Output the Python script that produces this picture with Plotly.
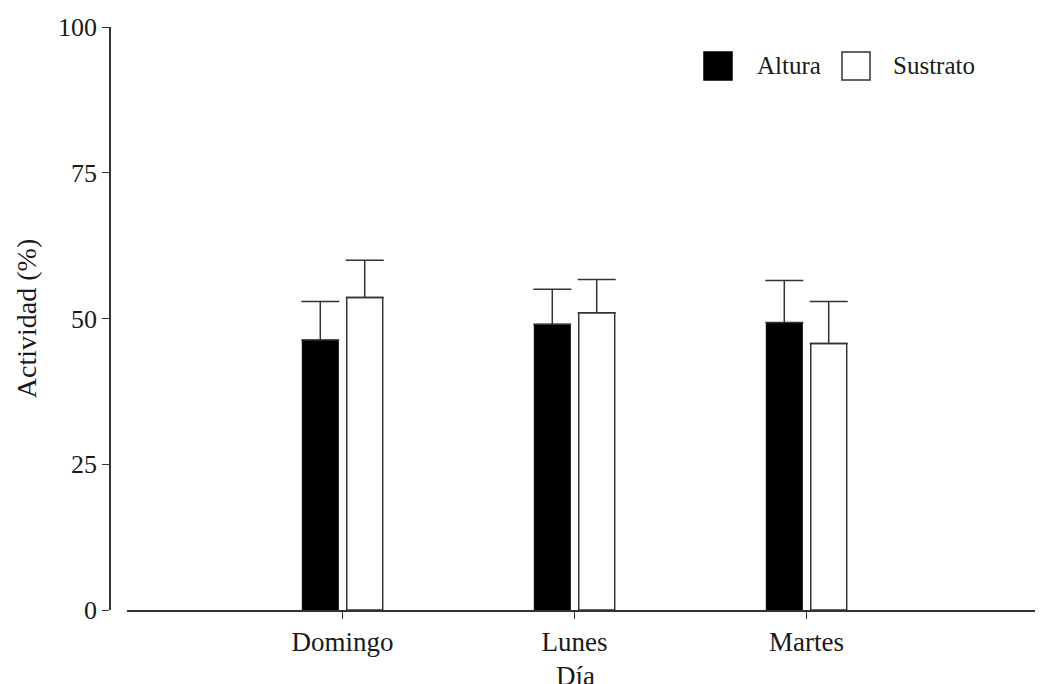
import plotly.graph_objects as go

# Data
dias = ["Domingo", "Lunes", "Martes"]
altura = [46.3, 49.0, 49.3]
altura_err = [6.6, 6.0, 7.2]
sustrato = [53.6, 51.0, 45.7]
sustrato_err = [6.4, 5.7, 7.2]
y_ticks = [0, 25, 50, 75, 100]

FONT = "Liberation Serif, Times New Roman, serif"
LINE = "#333333"
TXT = "#1a1a1a"

# page body has an 8px margin; lay the figure out in window pixels
OFF = 8
WIN_W, WIN_H = 1043, 684
W, H = WIN_W - OFF, WIN_H - OFF
AX_L, AX_T, AX_B = 110, 27, 610          # window pixels of plot area
ML, MT = AX_L - OFF, AX_T - OFF
MR = 0
MB = H - MT - (AX_B - AX_T)
PW, PH = W - ML - MR, AX_B - AX_T


def px_x(p):
    return (p - AX_L) / PW


def px_y(p):
    return 1 - (p - AX_T) / PH


fig = go.Figure()
fig.add_trace(go.Bar(
    x=dias, y=altura, name="Altura",
    marker=dict(color="black", line=dict(color="black", width=1)),
    error_y=dict(type="data", array=altura_err, symmetric=False, arrayminus=[0, 0, 0],
                 color=LINE, thickness=1.5, width=19),
    showlegend=False,
))
fig.add_trace(go.Bar(
    x=dias, y=sustrato, name="Sustrato",
    marker=dict(color="white", line=dict(color=LINE, width=1.5)),
    error_y=dict(type="data", array=sustrato_err, symmetric=False, arrayminus=[0, 0, 0],
                 color=LINE, thickness=1.5, width=19),
    showlegend=False,
))

# Legend drawn as shapes + text
legend = [("Altura", "black", "black", 704, 755), ("Sustrato", "white", LINE, 842, 891)]
shapes = []
annotations = []
for label, fill, edge, x0, tx in legend:
    shapes.append(dict(type="rect", xref="paper", yref="paper",
                       x0=px_x(x0), x1=px_x(x0 + 28), y0=px_y(80), y1=px_y(52),
                       fillcolor=fill, line=dict(color=edge, width=1.5)))
    annotations.append(dict(text=label, xref="paper", yref="paper", x=px_x(tx), y=px_y(66),
                            xanchor="left", yanchor="middle", showarrow=False,
                            font=dict(family=FONT, size=25, color=TXT)))

# x-axis title as annotation (sits low, like the reference)
annotations.append(dict(text="Día", xref="paper", yref="paper", x=px_x(575), y=px_y(659),
                        xanchor="center", yanchor="top", showarrow=False,
                        font=dict(family=FONT, size=27, color=TXT)))

x0_plot = 127
unit = 232.0
cat0 = 342.5
xr = [(x0_plot - cat0) / unit, (WIN_W - cat0) / unit]

fig.update_layout(
    width=W, height=H,
    margin=dict(l=ML, r=MR, t=MT, b=MB, pad=0, autoexpand=False),
    paper_bgcolor="white", plot_bgcolor="white",
    barmode="group", bargap=0.617, bargroupgap=0.19,
    font=dict(family=FONT, size=26, color=TXT),
    shapes=shapes, annotations=annotations,
    xaxis=dict(
        domain=[(x0_plot - AX_L) / PW, 1],
        range=xr, automargin=False,
        showline=True, linecolor=LINE, linewidth=1.5,
        ticks="outside", ticklen=7, tickcolor=LINE, tickwidth=1.2,
        tickfont=dict(family=FONT, size=27, color=TXT),
        showgrid=False, zeroline=False,
    ),
    yaxis=dict(
        anchor="free", position=0, automargin=False,
        range=[0, 100], tickvals=y_ticks,
        showline=True, linecolor=LINE, linewidth=1.5,
        ticks="outside", ticklen=7, tickcolor=LINE, tickwidth=1.2,
        tickfont=dict(family=FONT, size=26, color=TXT),
        showgrid=False, zeroline=False,
        title=dict(text="Actividad (%)", font=dict(family=FONT, size=28, color=TXT), standoff=12),
    ),
)

fig.write_html("out.html")
